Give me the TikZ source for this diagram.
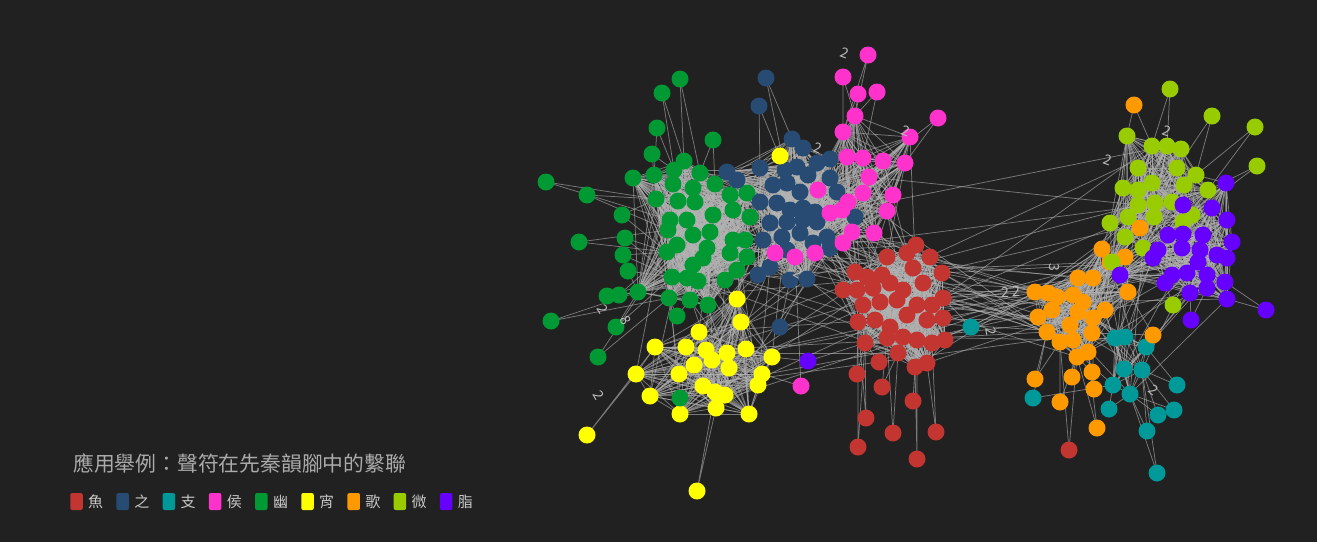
\documentclass[tikz,border=0pt]{standalone}
\usepackage{fontspec}
\newfontfamily\cjk{Noto Sans CJK TC}
\definecolor{bgc}{HTML}{212121}
\definecolor{cred}{HTML}{C23531}
\definecolor{cblue}{HTML}{274B72}
\definecolor{cteal}{HTML}{009999}
\definecolor{cpink}{HTML}{FF33CC}
\definecolor{cgreen}{HTML}{009933}
\definecolor{cyellow}{HTML}{FFFF00}
\definecolor{corange}{HTML}{FF9900}
\definecolor{cyg}{HTML}{99CC00}
\definecolor{cpurple}{HTML}{6600FF}
\definecolor{edgec}{HTML}{B4B4B4}
\definecolor{titlec}{HTML}{AAAAAA}
\definecolor{lblc}{HTML}{BBBBBB}
\definecolor{legc}{HTML}{C8C8C8}
\pgfdeclarelayer{bglayer}
\pgfdeclarelayer{edgelayer}
\pgfsetlayers{bglayer,edgelayer,main}
\tikzset{
  nd/.style={circle,inner sep=0pt,minimum size=17pt,draw=none},
  ed/.style={draw=edgec,line width=0.75pt,opacity=0.6},
  lbl/.style={text=lblc,font=\cjk\fontsize{14}{14}\selectfont,inner sep=0pt},
  legbox/.style={rectangle,rounded corners=2pt,minimum width=12.5pt,minimum height=17pt,inner sep=0pt,draw=none},
  legtxt/.style={text=legc,font=\cjk\fontsize{15}{15}\selectfont,inner sep=0pt,anchor=base west}
}
\newcommand\mkcore[3]{\foreach \x/\y [count=\i] in #1 {\node[nd,fill=#2] (#3\i) at (\x,\y) {};}}
\newcommand\mkleaves[3]{\foreach \x/\y/\a/\b [count=\i] in #1 {\node[nd,fill=#2] (#3\i) at (\x,\y) {};}}
\newcommand\mkleafedges[2]{\foreach \x/\y/\a/\b [count=\i] in #1 {\draw[ed] (#2\i.center)--(\a.center) (#2\i.center)--(\b.center);}}
\newcommand\mkclique[2]{\foreach \i in {1,...,#2}{\foreach \j in {\i,...,#2}{\ifnum\i<\j\relax\draw[ed] (#1\i.center)--(#1\j.center);\fi}}}
\newcommand\mkcross[5]{\foreach \k in {1,...,#5}{\pgfmathtruncatemacro\ia{mod(\k*5,#2)+1}\pgfmathtruncatemacro\ib{mod(\k*11+3,#4)+1}\draw[ed] (#1\ia.center)--(#3\ib.center);}}
% core node lists
\def\Gc{674/170,700/173,673/184,693/188,715/184,730/195,747/193,656/199,678/201,695/202,713/215,733/210,750/217,670/220,687/220,668/230,693/235,710/232,733/240,745/240,677/245,667/252,707/248,730/253,747/257,693/265,703/258,737/270,672/277,687/278,698/281,725/280,684/161,654/175,633/178,669/298,690/300,708/305,638/292}
\def\Bc{785/170,797/167,817/163,830/159,808/175,830/178,773/185,787/183,800/192,837/192,760/202,777/203,790/210,803/208,815/212,770/223,787/222,803/220,817/222,855/217,763/240,782/237,800/233,813/243,827/237,830/248,787/250,770/267,758/275,790/280,807/279,792/139,803/148,760/168,727/172,737/180}
\def\Pc{843/132,847/157,863/158,883/161,905/163,869/177,818/190,863/193,893/195,848/202,830/213,842/210,887/211,852/232,874/233,775/253,795/257,815/253,843/243,910/137,855/116}
\def\Rc{916/245,887/257,907/253,930/257,855/272,867/277,882/275,913/268,942/273,843/290,857/290,873/288,890/283,903/290,923/283,943/298,863/305,880/302,897/300,917/305,932/305,858/322,875/320,890/327,907/315,927/320,943/318,887/338,903/337,917/340,932/343,945/340,865/343,898/353,915/367,927/363}
\def\Yc{737/299,741/322,699/332,655/347,686/347,706/350,712/360,727/353,746/349,772/357,694/365,679/374,729/368,762/374,758/385,703/386,715/392,725/395,636/374,716/408,680/414,749/414,650/396}
\def\Oc{1078/278,1093/278,1035/292,1048/293,1057/297,1073/295,1083/302,1105/310,1052/310,1038/317,1070/325,1078/312,1093/318,1092/333,1047/332,1060/342,1073/340,1077/357,1088/352,1102/249,1125/257,1128/292,1110/262}
\def\Tc{1115/338,1125/337,1146/347,1124/369,1142/370,1113/385,1130/394}
\def\Wc{1127/136,1152/146,1167/146,1181/149,1138/168,1177/168,1196/175,1123/188,1138/190,1152/183,1184/185,1208/190,1155/203,1172/202,1138/205,1128/217,1154/217,1110/223,1192/215,1183/222,1125/237,1143/248,1112/262}
\def\Vc{1226/183,1212/208,1227/220,1183/205,1168/235,1183/234,1203/235,1232/242,1158/250,1182/248,1200/250,1153/258,1198/262,1217/255,1227/258,1120/275,1165/283,1172/275,1187/273,1207/275,1225/282,1190/293,1207/288,1227/299}
% leaf lists x/y/target/target
\def\GL{680/79/g2/g33,662/93/g1/g33,657/128/g34/g1,713/140/g2/g5,652/154/g34/g1,546/182/g8/g14,587/195/g8/g16,622/215/g8/g22,579/242/g16/g22,625/238/g22/g29,623/255/g22/g29,628/271/g29/g39,607/296/g39/g29,619/295/g39/g22,677/316/g36/g37,551/321/g39/g36,616/327/g39/g29,598/357/g22/g36,680/398/y16/y21}
\def\BL{766/78/b32/b1,759/106/b34/b1,780/327/b30/b31}
\def\YL{587/435/y19/y4,697/491/y20/y17,780/156/b32/b1}
\def\PL{843/77/p1/p21,858/94/p21/p1,877/92/p21/p3,938/118/p5/p4,868/55/p21/p1,801/386/y14/p17}
\def\RL{879/362/r33/r34,857/374/r33/r22,882/387/r34/r28,913/401/r35/r30,866/418/r33/r22,893/433/r34/r28,936/432/r36/r31,858/447/r33/r22,917/459/r35/r30,1069/450/o16/o18}
\def\OL{1035/379/o15/o16,1072/377/o18/o17,1092/372/o19/o18,1094/389/o19/o14,1060/402/o16/o18,1097/428/o19/o18,1153/335/o22/o14,1134/105/w1/w2,1140/228/w16/w17}
\def\TL{971/327/o3/r16,1177/385/t5/t3,1033/398/o15/t6,1109/409/t6/t7,1158/415/t7/t5,1174/410/t5/t7,1147/431/t7/t5,1157/473/t7/t5}
\def\WL{1170/89/w3/w2,1212/116/w6/w7,1255/127/w12/w7,1257/166/w12/w19,1173/305/v17/v22}
\def\VL{1191/320/v22/v23,1266/310/v24/v21,808/361/y10/r33}
\begin{document}
\begin{tikzpicture}[x=1pt,y=-1pt]
\begin{pgfonlayer}{bglayer}
\fill[bgc] (0,0) rectangle (1317,542);
\end{pgfonlayer}
\useasboundingbox (0,0) rectangle (1317,542);
% nodes
\mkcore{\Gc}{cgreen}{g}
\mkcore{\Bc}{cblue}{b}
\mkcore{\Pc}{cpink}{p}
\mkcore{\Yc}{cyellow}{y}
\mkcore{\Rc}{cred}{r}
\mkcore{\Oc}{corange}{o}
\mkcore{\Tc}{cteal}{t}
\mkcore{\Wc}{cyg}{w}
\mkcore{\Vc}{cpurple}{v}
\mkleaves{\GL}{cgreen}{gl}
\mkleaves{\BL}{cblue}{bl}
\mkleaves{\YL}{cyellow}{yl}
\mkleaves{\PL}{cpink}{pl}
\mkleaves{\RL}{cred}{rl}
\mkleaves{\OL}{corange}{ol}
\mkleaves{\TL}{cteal}{tl}
\mkleaves{\WL}{cyg}{wl}
\mkleaves{\VL}{cpurple}{vl}
% edges
\begin{pgfonlayer}{edgelayer}
\mkclique{g}{39}
\mkclique{b}{36}
\mkclique{p}{21}
\mkclique{r}{36}
\mkclique{y}{23}
\mkclique{o}{23}
\mkclique{t}{7}
\mkclique{w}{23}
\mkclique{v}{24}
\mkleafedges{\GL}{gl}
\mkleafedges{\BL}{bl}
\mkleafedges{\YL}{yl}
\mkleafedges{\PL}{pl}
\mkleafedges{\RL}{rl}
\mkleafedges{\OL}{ol}
\mkleafedges{\TL}{tl}
\mkleafedges{\WL}{wl}
\mkleafedges{\VL}{vl}
\mkcross{g}{39}{b}{36}{40}
\mkcross{b}{36}{p}{21}{30}
\mkcross{g}{39}{p}{21}{10}
\mkcross{p}{21}{r}{36}{20}
\mkcross{b}{36}{r}{36}{20}
\mkcross{g}{39}{r}{36}{12}
\mkcross{g}{39}{y}{23}{20}
\mkcross{y}{23}{b}{36}{12}
\mkcross{y}{23}{r}{36}{10}
\mkcross{r}{36}{o}{23}{30}
\mkcross{r}{36}{w}{23}{4}
\mkcross{r}{36}{v}{24}{4}
\mkcross{p}{21}{w}{23}{3}
\mkcross{b}{36}{o}{23}{3}
\mkcross{g}{39}{o}{23}{4}
\mkcross{o}{23}{t}{7}{20}
\mkcross{o}{23}{w}{23}{15}
\mkcross{o}{23}{v}{24}{15}
\mkcross{w}{23}{v}{24}{35}
\mkcross{t}{7}{v}{24}{8}
\mkcross{t}{7}{w}{23}{4}
\mkcross{y}{23}{o}{23}{4}
\end{pgfonlayer}
% edge weight labels
\node[lbl,rotate=-20] (e1) at (845,53) {2};
\node[lbl,rotate=-20] (e2) at (906,131) {2};
\node[lbl,rotate=-20] (e3) at (818,148) {2};
\node[lbl,rotate=-60] (e4) at (599,395) {2};
\node[lbl,rotate=-60] (e5) at (603,309) {2};
\node[lbl,rotate=-80] (e6) at (991,331) {2};
\node[lbl,rotate=-20] (e7) at (1108,160) {2};
\node[lbl,rotate=-20] (e8) at (1167,131) {2};
\node[lbl,rotate=-40] (e9) at (1154,390) {2};
\node[lbl] (e10) at (1005,292) {2};
\node[lbl] (e11) at (1016,291) {2};
\node[lbl,rotate=-90] (e12) at (1054,267) {3};
\node[lbl,rotate=-30] (e13) at (798,273) {2};
\node[lbl,rotate=-60] (e14) at (626,320) {8};
% title and legend
\node[text=titlec,font=\cjk\fontsize{20.8}{24}\selectfont,inner sep=0pt,anchor=base west] (title) at (73,471) {應用舉例：聲符在先秦韻腳中的繫聯};
\foreach \t/\c [count=\i from 0] in {魚/cred,之/cblue,支/cteal,侯/cpink,幽/cgreen,宵/cyellow,歌/corange,微/cyg,脂/cpurple}{
  \node[legbox,fill=\c] (lb\i) at ({76.5+46.2*\i},501.5) {};
  \node[legtxt] (lt\i) at ({88+46.2*\i},507) {\t};
}
\end{tikzpicture}
\end{document}
